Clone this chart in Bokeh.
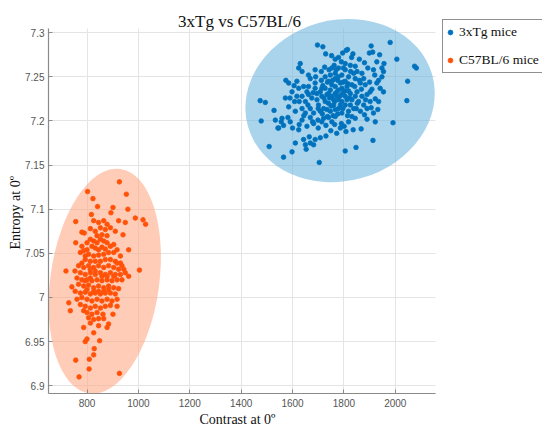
from bokeh.plotting import figure
from bokeh.models import Range1d, CustomJSTickFormatter, Legend, LegendItem, Label, Title
from bokeh.embed import file_html
from bokeh.resources import INLINE

# ---- data ----
blue_x = [1697, 1718, 1729, 1752, 1809, 1835, 1814, 1795, 1779, 1906,
          1899, 1912, 1980, 2006, 1939, 1928, 1956, 1948, 1954, 1948,
          1935, 2082, 2075, 2048, 2045, 1991, 1913, 1847, 1805, 1704,
          1598, 1565, 1509, 1478, 1474, 1494, 1528, 1533, 1546, 1572,
          1574, 1585, 1617, 1630, 1624, 1637, 1662, 1688, 1725, 1766,
          1762, 1650, 1653, 1682, 1669, 1688, 1708, 1730, 1749, 1764,
          1786, 1801, 1818, 1844, 1867, 1890, 1922, 1915, 1932, 1935,
          1922, 1902, 1909, 1883, 1870, 1893, 1915, 1844, 1825, 1805,
          1790, 1556, 1543, 1565, 1591, 1600, 1624, 1637, 1669, 1678,
          1699, 1714, 1740, 1766, 1792, 1818, 1848, 1864, 1890, 1906,
          1611, 1608, 1617, 1637, 1656, 1662, 1688, 1712, 1727, 1747,
          1766, 1792, 1818, 1844, 1766, 1740, 1714, 1695, 1675, 1650,
          1637, 1669, 1701, 1727, 1753, 1773, 1792, 1812, 1831, 1851,
          1870, 1890, 1857, 1831, 1805, 1779, 1760, 1734, 1708, 1682,
          1805, 1825, 1747, 1734, 1766, 1786, 1753, 1805, 1838, 1695,
          1714, 1662, 1643, 1624, 1598, 1585, 1559, 1582, 1650, 1721,
          1753, 1790, 1831, 1877, 1902, 1928, 1941, 1954, 1721, 1688,
          1753, 1779, 1805, 1779, 1740, 1760, 1792, 1818, 1842, 1864,
          1877, 1851, 1669, 1682, 1656, 1611, 1643, 1665, 1766, 1779,
          1799, 1812, 1825, 1740, 1727, 1708, 1786, 1766, 1747, 1844,
          1792, 1773,
          1718, 1736, 1756, 1776, 1797, 1816, 1722, 1744, 1764, 1784,
          1804, 1822, 1700, 1716, 1736, 1758, 1776, 1796, 1814, 1838,
          1852, 1868, 1884, 1860, 1826, 1798, 1770, 1742, 1712, 1690,
          1680, 1660, 1644, 1626, 1606, 1590, 1626, 1700, 1730, 1772,
          1808, 1836, 1880, 1900, 1920, 1880, 1860, 1830, 1778, 1750]
blue_y = [7.286, 7.284, 7.276, 7.274, 7.280, 7.276, 7.281, 7.277, 7.272, 7.285,
          7.277, 7.278, 7.289, 7.270, 7.275, 7.267, 7.265, 7.260, 7.256, 7.250,
          7.246, 7.260, 7.262, 7.245, 7.223, 7.198, 7.178, 7.170, 7.166, 7.153,
          7.165, 7.159, 7.171, 7.200, 7.223, 7.221, 7.212, 7.201, 7.192, 7.226,
          7.246, 7.243, 7.245, 7.265, 7.260, 7.256, 7.252, 7.258, 7.261, 7.270,
          7.263, 7.173, 7.168, 7.173, 7.175, 7.179, 7.181, 7.183, 7.189, 7.196,
          7.192, 7.194, 7.199, 7.203, 7.191, 7.202, 7.199, 7.209, 7.213, 7.222,
          7.225, 7.233, 7.236, 7.241, 7.254, 7.260, 7.258, 7.262, 7.263, 7.265,
          7.267, 7.199, 7.192, 7.195, 7.199, 7.192, 7.190, 7.201, 7.204, 7.199,
          7.201, 7.199, 7.204, 7.205, 7.209, 7.211, 7.214, 7.211, 7.214, 7.215,
          7.211, 7.222, 7.228, 7.228, 7.233, 7.239, 7.243, 7.246, 7.250, 7.252,
          7.254, 7.252, 7.250, 7.248, 7.248, 7.245, 7.237, 7.231, 7.226, 7.222,
          7.214, 7.214, 7.218, 7.222, 7.228, 7.233, 7.237, 7.239, 7.241, 7.233,
          7.228, 7.230, 7.222, 7.224, 7.228, 7.224, 7.218, 7.213, 7.211, 7.209,
          7.218, 7.231, 7.235, 7.230, 7.239, 7.243, 7.241, 7.245, 7.254, 7.224,
          7.228, 7.230, 7.239, 7.237, 7.233, 7.216, 7.203, 7.204, 7.209, 7.203,
          7.199, 7.197, 7.205, 7.218, 7.222, 7.243, 7.237, 7.233, 7.214, 7.237,
          7.260, 7.260, 7.258, 7.214, 7.220, 7.224, 7.230, 7.234, 7.239, 7.243,
          7.248, 7.256, 7.248, 7.197, 7.194, 7.175, 7.179, 7.182, 7.231, 7.235,
          7.233, 7.224, 7.218, 7.231, 7.237, 7.233, 7.218, 7.213, 7.211, 7.228,
          7.222, 7.228,
          7.240, 7.244, 7.246, 7.246, 7.244, 7.242, 7.226, 7.226, 7.222, 7.228,
          7.234, 7.226, 7.214, 7.208, 7.205, 7.206, 7.208, 7.214, 7.206, 7.214,
          7.220, 7.236, 7.224, 7.246, 7.256, 7.260, 7.258, 7.258, 7.256, 7.250,
          7.232, 7.218, 7.206, 7.222, 7.240, 7.226, 7.196, 7.192, 7.195, 7.186,
          7.188, 7.190, 7.207, 7.244, 7.252, 7.266, 7.270, 7.272, 7.250, 7.217]

orange_x = [926, 802, 823, 953, 841, 901, 959, 893, 817, 988,
            1018, 1028, 756, 826, 845, 865, 878, 923, 949, 780,
            789, 813, 891, 910, 940, 756, 962, 930, 1004, 718,
            753, 741, 729, 735, 962, 936, 923, 917, 901, 862,
            884, 787, 845, 826, 813, 800, 793, 849, 828, 826,
            756, 809, 808, 769, 926, 878,
            813, 826, 839, 852, 865, 878, 819, 832, 845, 858,
            871, 891, 904, 800, 787, 774, 806, 826, 845, 865,
            884, 904, 917, 793, 813, 832, 852, 871, 891, 910,
            930, 780, 767, 787, 806, 826, 845, 865, 884, 904,
            923, 943, 774, 793, 813, 832, 852, 871, 891, 910,
            930, 949, 761, 780, 800, 819, 839, 858, 878, 897,
            917, 767, 787, 806, 826, 845, 865, 884, 904, 754,
            774, 793, 813, 832, 852, 871, 891, 910, 761, 780,
            800, 819, 839, 858, 878, 897, 917, 774, 793, 813,
            832, 852, 871, 891, 800, 819, 839, 806, 826, 845,
            865, 787, 780, 800, 839, 858, 878, 832, 852, 871,
            793, 813, 832, 858, 878, 800, 826, 845, 865, 813,
            793, 884, 904, 917, 936]
orange_y = [7.131, 7.120, 7.112, 7.117, 7.103, 7.102, 7.100, 7.096, 7.094, 7.090,
            7.088, 7.083, 7.086, 7.087, 7.085, 7.087, 7.083, 7.087, 7.085, 7.074,
            7.073, 7.078, 7.079, 7.075, 7.071, 7.062, 7.054, 7.047, 7.031, 7.030,
            7.030, 7.012, 6.994, 6.985, 7.024, 7.020, 7.010, 6.990, 6.981, 6.981,
            6.970, 6.966, 6.968, 6.960, 6.971, 6.953, 6.950, 6.951, 6.942, 6.935,
            6.929, 6.930, 6.919, 6.910, 6.914, 6.966,
            7.066, 7.064, 7.062, 7.066, 7.064, 7.062, 7.058, 7.056, 7.054, 7.057,
            7.055, 7.058, 7.060, 7.054, 7.053, 7.051, 7.049, 7.047, 7.048, 7.049,
            7.051, 7.051, 7.054, 7.043, 7.041, 7.041, 7.041, 7.043, 7.043, 7.041,
            7.039, 7.039, 7.036, 7.034, 7.036, 7.034, 7.036, 7.034, 7.036, 7.034,
            7.032, 7.032, 7.028, 7.026, 7.028, 7.026, 7.028, 7.026, 7.028, 7.026,
            7.026, 7.028, 7.022, 7.020, 7.020, 7.019, 7.020, 7.019, 7.020, 7.019,
            7.020, 7.015, 7.013, 7.014, 7.011, 7.013, 7.011, 7.013, 7.011, 7.007,
            7.005, 7.006, 7.004, 7.005, 7.004, 7.005, 7.005, 7.004, 6.998, 7.000,
            6.998, 6.996, 6.998, 6.996, 6.998, 6.996, 6.998, 6.992, 6.990, 6.988,
            6.990, 6.988, 6.990, 6.991, 6.983, 6.981, 6.983, 6.977, 6.975, 6.976,
            6.976, 6.985, 7.058, 7.062, 7.070, 7.071, 7.070, 7.075, 7.079, 7.077,
            7.047, 7.032, 7.030, 7.024, 7.024, 7.009, 7.007, 7.007, 7.007, 7.022,
            7.019, 7.009, 7.024, 7.039, 7.036]

series_labels = ["3xTg mice", "C57BL/6 mice"]
point_colors = ["#0072bd", "#ff5208"]

# confidence ellipses (center, full width, full height, rotation)
ell_x = [1785, 869]
ell_y = [7.2231, 7.0185]
ell_w = [745, 424]
ell_h = [0.1824, 0.2568]
ell_angle = [0.27, -0.138]
ell_colors = ["#70b7df", "#ffaa89"]

x_ticks = [800, 1000, 1200, 1400, 1600, 1800, 2000]
y_ticks = [6.9, 6.95, 7.0, 7.05, 7.1, 7.15, 7.2, 7.25, 7.3]
y_tick_labels = ["6.9", "6.95", "7", "7.05", "7.1", "7.15", "7.2", "7.25", "7.3"]

title_text = "3xTg vs C57BL/6"
x_label = "Contrast at 0º"
y_label = "Entropy at 0º"

# axis extents; the view extends past them so the ellipse and the legend
# (drawn outside the axes in the original) are not clipped
x_lo, x_axis_hi, x_view_hi = 650, 2155, 2573
y_lo, y_axis_hi, y_view_hi = 6.8912, 7.305, 7.3229

SERIF = "Liberation Serif"
SANS = "Liberation Sans"
AXIS_GRAY = "#8a8a8a"

p = figure(width=542, height=426, output_backend="svg", toolbar_location=None,
           x_range=Range1d(x_lo, x_view_hi), y_range=Range1d(y_lo, y_view_hi),
           min_border_left=48, min_border_right=0, min_border_top=12,
           min_border_bottom=33)
p.outline_line_color = None
p.background_fill_color = "white"

# grid
p.xgrid.ticker = x_ticks
p.ygrid.ticker = y_ticks
p.grid.grid_line_color = "#e4e4e4"
p.grid.grid_line_width = 1
p.xgrid.cross_bounds = (y_lo, y_axis_hi)
p.ygrid.cross_bounds = (x_lo, x_axis_hi)

# ellipses
p.ellipse(x=ell_x, y=ell_y, width=ell_w, height=ell_h, angle=ell_angle,
          fill_color=ell_colors, fill_alpha=0.6, line_color=None)

# points
r_blue = p.scatter(blue_x, blue_y, size=4.6, fill_color=point_colors[0],
                   line_color=point_colors[0], line_width=0.8)
r_orange = p.scatter(orange_x, orange_y, size=4.6, fill_color=point_colors[1],
                     line_color=point_colors[1], line_width=0.8)

# axes
for ax in (p.xaxis[0], p.yaxis[0]):
    ax.axis_line_color = AXIS_GRAY
    ax.axis_line_width = 1.2
    ax.major_tick_line_color = AXIS_GRAY
    ax.major_tick_in = 4
    ax.major_tick_out = 0
    ax.minor_tick_line_color = None
    ax.major_label_text_font = SANS
    ax.major_label_text_font_size = "10px"
    ax.major_label_text_color = "#555555"

p.xaxis.ticker = x_ticks
p.yaxis.ticker = y_ticks
p.xaxis.bounds = (x_lo, x_axis_hi)
p.yaxis.bounds = (y_lo, y_axis_hi)
p.xaxis.major_label_standoff = 5
p.yaxis.major_label_standoff = 4
p.yaxis.formatter = CustomJSTickFormatter(
    args=dict(vals=y_ticks, labs=y_tick_labels),
    code="""
const i = vals.findIndex(v => Math.abs(v - tick) < 1e-9);
return i >= 0 ? labs[i] : String(tick);
""")

# axis labels, centred on the visible axis extents
p.add_layout(Title(text=y_label, align="left", offset=144, standoff=0,
                   text_font=SERIF, text_font_size="14px",
                   text_font_style="normal", text_color="#111111"), "left")
p.add_layout(Title(text=x_label, align="left", offset=151, standoff=0,
                   text_font=SERIF, text_font_size="14px",
                   text_font_style="normal", text_color="#111111"), "below")

# title
p.add_layout(Label(x=191, y=372.3, x_units="screen", y_units="screen",
                   text=title_text, text_align="center",
                   text_baseline="alphabetic", text_font=SERIF,
                   text_font_size="17px", text_color="#111111"))

# legend
legend = Legend(items=[LegendItem(label=series_labels[0], renderers=[r_blue]),
                       LegendItem(label=series_labels[1], renderers=[r_orange])],
                location=(394, 320), orientation="vertical",
                border_line_color="#222222", border_line_width=1,
                background_fill_color="white", background_fill_alpha=1.0,
                label_text_font=SERIF, label_text_font_size="13.5px",
                label_text_color="#111111",
                padding=1, spacing=6, glyph_width=12, glyph_height=22,
                label_standoff=3, margin=0, label_width=82)
p.add_layout(legend)

open("out.html", "w").write(file_html(p, INLINE))
